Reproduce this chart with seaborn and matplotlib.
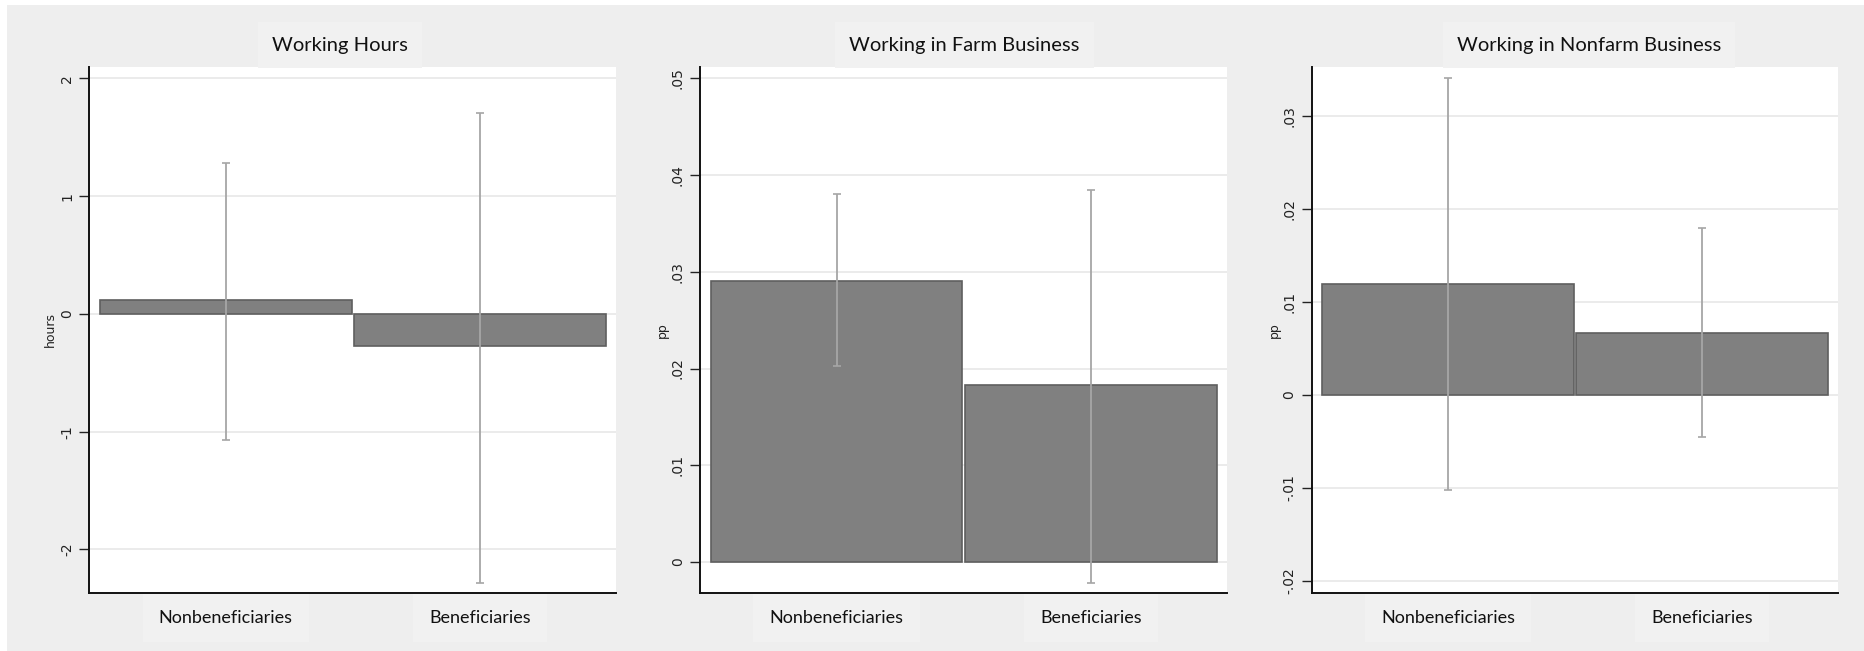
import matplotlib
matplotlib.use("Agg")
import matplotlib.pyplot as plt
import seaborn as sns
import pandas as pd
from matplotlib.patches import Rectangle

# data
categories = ["Nonbeneficiaries", "Beneficiaries"]

hours = [0.116, -0.271]
hours_lo = [-1.068, -2.284]
hours_hi = [1.286, 1.709]

farm = [0.0291, 0.0183]
farm_lo = [0.0203, -0.0022]
farm_hi = [0.0380, 0.0385]

nonfarm = [0.0119, 0.0067]
nonfarm_lo = [-0.0102, -0.0045]
nonfarm_hi = [0.0341, 0.0179]

titles = ["Working Hours", "Working in Farm Business", "Working in Nonfarm Business"]
ylabels = ["hours", "pp", "pp"]
yticks = [[-2, -1, 0, 1, 2],
          [0, 0.01, 0.02, 0.03, 0.04, 0.05],
          [-0.02, -0.01, 0, 0.01, 0.02, 0.03]]
yticklabels = [["-2", "-1", "0", "1", "2"],
               ["0", ".01", ".02", ".03", ".04", ".05"],
               ["-.02", "-.01", "0", ".01", ".02", ".03"]]
ylims = [(-2.37, 2.10), (-0.0032, 0.0512), (-0.0213, 0.0353)]

sns.set_style("white")
plt.rcParams["font.family"] = ["Lato", "DejaVu Sans"]

BG = "#eeeeee"
BOX = "#f1f1f1"
W, H = 1865, 651
fig = plt.figure(figsize=(W / 100, H / 100), dpi=100, facecolor="white")
fig.patches.append(Rectangle((7 / W, 0), 1 - 7 / W, 1 - 5 / H, transform=fig.transFigure,
                             facecolor=BG, edgecolor="none", zorder=-10))

lefts = [89.3, 700.0, 1311.5]
title_x = [339.6, 964.5, 1589.0]
ylabel_x = [50, 662, 1274]
top, bottom = 66.7, 593.0
aw = 526.7

series = [(hours, hours_lo, hours_hi), (farm, farm_lo, farm_hi), (nonfarm, nonfarm_lo, nonfarm_hi)]

for i, (vals, lo, hi) in enumerate(series):
    ax = fig.add_axes([lefts[i] / W, 1 - bottom / H, aw / W, (bottom - top) / H])
    ax.set_facecolor("white")
    df = pd.DataFrame({"group": categories, "value": vals})
    sns.barplot(data=df, x="group", y="value", ax=ax, color="#808080", saturation=1,
                width=0.99, edgecolor="#5f5f5f", linewidth=1.2, errorbar=None, zorder=2)
    x = list(range(len(categories)))
    yerr = [[v - l for v, l in zip(vals, lo)], [h - v for v, h in zip(vals, hi)]]
    ax.errorbar(x, vals, yerr=yerr, fmt="none", ecolor="#a6a6a6", elinewidth=1.3,
                capsize=3, capthick=1.2, zorder=3)

    ax.set_xlim(-0.537, 1.535)
    ax.set_ylim(*ylims[i])
    ax.set_yticks(yticks[i])
    ax.set_yticklabels(yticklabels[i], rotation=90, va="center", fontsize=10,
                       family=["DejaVu Sans"], color="#222222")
    ax.yaxis.grid(True, color="#e6e6e6", linewidth=1.1, zorder=0)
    ax.set_axisbelow(True)
    ax.set_xlabel("")
    ax.set_ylabel("")
    for lbl in ax.get_xticklabels():
        lbl.set_fontsize(13)
        lbl.set_color("#111111")
        lbl.set_bbox(dict(facecolor=BOX, edgecolor="none", boxstyle="square,pad=0.9"))
    ax.tick_params(axis="x", length=5, width=1, color="#222222", pad=7, bottom=True)
    ax.tick_params(axis="y", length=7, width=1, color="#222222", pad=4, left=True)
    for s in ["top", "right"]:
        ax.spines[s].set_visible(False)
    for s in ["left", "bottom"]:
        ax.spines[s].set_color("#111111")
        ax.spines[s].set_linewidth(1.4)

    fig.text(ylabel_x[i] / W, 1 - ((top + bottom) / 2) / H, ylabels[i], rotation=90,
             ha="center", va="center", fontsize=9, family=["DejaVu Sans"], color="#222222")
    fig.text(title_x[i] / W, 1 - 45 / H, titles[i], ha="center", va="center",
             fontsize=14.5, color="#111111",
             bbox=dict(facecolor=BOX, edgecolor="none", boxstyle="square,pad=0.7"))

fig.savefig("out.png", dpi=100, facecolor=fig.get_facecolor())
